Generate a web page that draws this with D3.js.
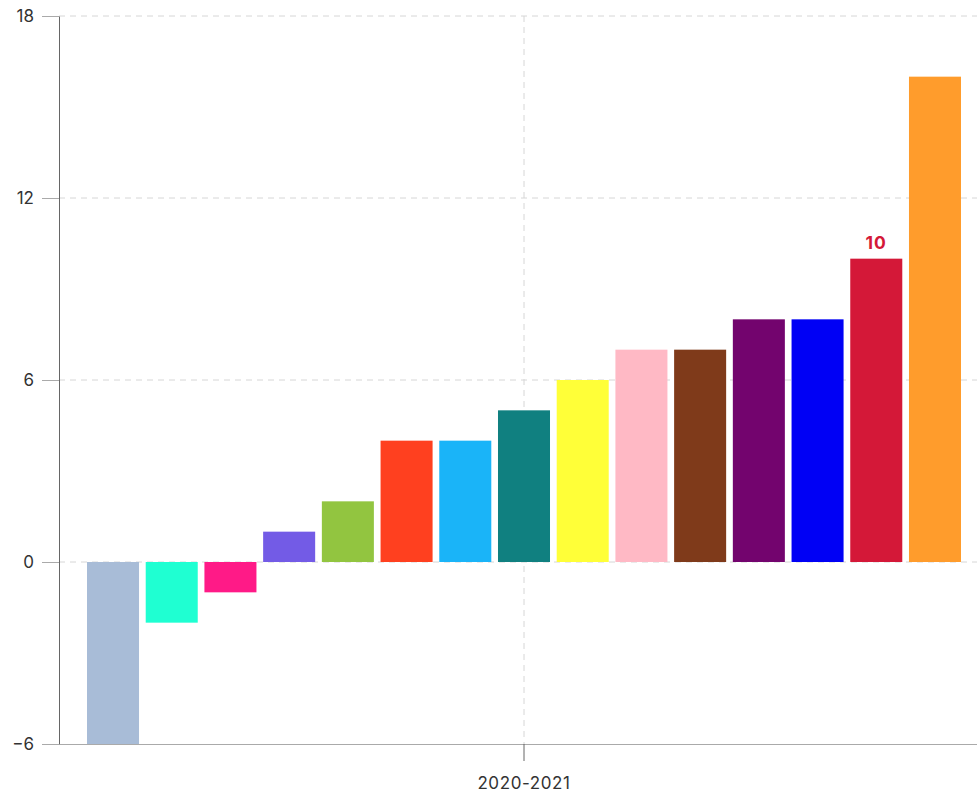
<!DOCTYPE html>
<html>
<head>
<meta charset="utf-8">
<script src="https://cdn.jsdelivr.net/npm/d3@7"></script>
<style>
  body { margin: 0; background: #fff; }
  svg { display: block; font-family: Inter, "Noto Sans", sans-serif; }
</style>
</head>
<body>
<div id="chart"></div>
<script>
// data
var period = ["2020-2021"]
var series = ["A", "B", "C", "D", "E", "F", "G", "H", "I", "J", "K", "L", "M", "N", "O"]
var values = [-6, -2, -1, 1, 2, 4, 4, 5, 6, 7, 7, 8, 8, 10, 16]
var colors = ["#a8bcd7", "#1fffd2", "#ff1a87", "#735be6", "#92c540", "#ff401f", "#1ab4f8",
              "#108080", "#ffff38", "#ffb9c5", "#7f3a1a", "#73046e", "#0000f5", "#d41838", "#ff9c2c"]
var yTicks = [-6, 0, 6, 12, 18]
var labelled = "N"

var outerWidth = 977,
    outerHeight = 794,
    margin = {top: 16, left: 59},
    width = 930,
    height = 728;

var svg = d3.select("#chart").append("svg")
    .attr("width", outerWidth)
    .attr("height", outerHeight);

var g = svg.append("g")
    .attr("transform", "translate(" + margin.left + "," + margin.top + ")");

var x0 = d3.scaleBand().domain(period).range([0, width]).padding(0);
var x1 = d3.scaleBand().domain(series).range([0, x0.bandwidth()])
    .paddingInner(0.114).paddingOuter(0.477);
var y = d3.scaleLinear().domain([-6, 18]).range([height, 0]);

// grid
g.selectAll(".hgrid")
    .data(yTicks.filter(function(d) { return d > -6; }))
    .enter().append("line")
    .attr("x1", 0).attr("x2", width)
    .attr("y1", function(d) { return y(d); })
    .attr("y2", function(d) { return y(d); })
    .attr("stroke", "#d6d6d6")
    .attr("stroke-dasharray", "6,5");

g.selectAll(".vgrid")
    .data(period)
    .enter().append("line")
    .attr("x1", function(d) { return x0(d) + x0.bandwidth() / 2; })
    .attr("x2", function(d) { return x0(d) + x0.bandwidth() / 2; })
    .attr("y1", 0).attr("y2", height)
    .attr("stroke", "#d6d6d6")
    .attr("stroke-dasharray", "6,5");

// bars
var groups = g.selectAll(".grp")
    .data(period)
    .enter().append("g")
    .attr("transform", function(d) { return "translate(" + x0(d) + ",0)"; });

groups.selectAll("rect")
    .data(series.map(function(s, i) { return {name: s, value: values[i], color: colors[i]}; }))
    .enter().append("rect")
    .attr("x", function(d) { return x1(d.name); })
    .attr("width", x1.bandwidth())
    .attr("y", function(d) { return y(Math.max(0, d.value)); })
    .attr("height", function(d) { return Math.abs(y(d.value) - y(0)); })
    .attr("fill", function(d) { return d.color; });

// value label on one bar
groups.selectAll(".lbl")
    .data(series.map(function(s, i) { return {name: s, value: values[i], color: colors[i]}; })
      .filter(function(d) { return d.name == labelled; }))
    .enter().append("text")
    .attr("x", function(d) { return x1(d.name) + x1.bandwidth() / 2; })
    .attr("y", function(d) { return y(d.value) - 10; })
    .attr("text-anchor", "middle")
    .attr("font-size", "17.5px")
    .attr("font-weight", "bold")
    .attr("letter-spacing", "1px")
    .attr("fill", function(d) { return d.color; })
    .text(function(d) { return d.value; });

// axes
var xAxis = g.append("g")
    .attr("transform", "translate(0," + height + ")")
    .call(d3.axisBottom(x0).tickSize(17).tickPadding(16).tickSizeOuter(0));
xAxis.select(".domain").attr("stroke", "#aaa");
xAxis.selectAll(".tick line").attr("stroke", "#666");
xAxis.selectAll("text").attr("font-size", "17px").attr("fill", "#333")
    .attr("font-family", "Inter").attr("letter-spacing", "0.6px");

var yAxis = g.append("g")
    .call(d3.axisLeft(y).tickValues(yTicks).tickSize(17).tickPadding(8).tickSizeOuter(0));
yAxis.select(".domain").attr("stroke", "#666");
yAxis.selectAll(".tick line").attr("stroke", "#aaa");
yAxis.selectAll("text").attr("font-size", "17px").attr("fill", "#333").attr("font-family", "Inter");
</script>
</body>
</html>
